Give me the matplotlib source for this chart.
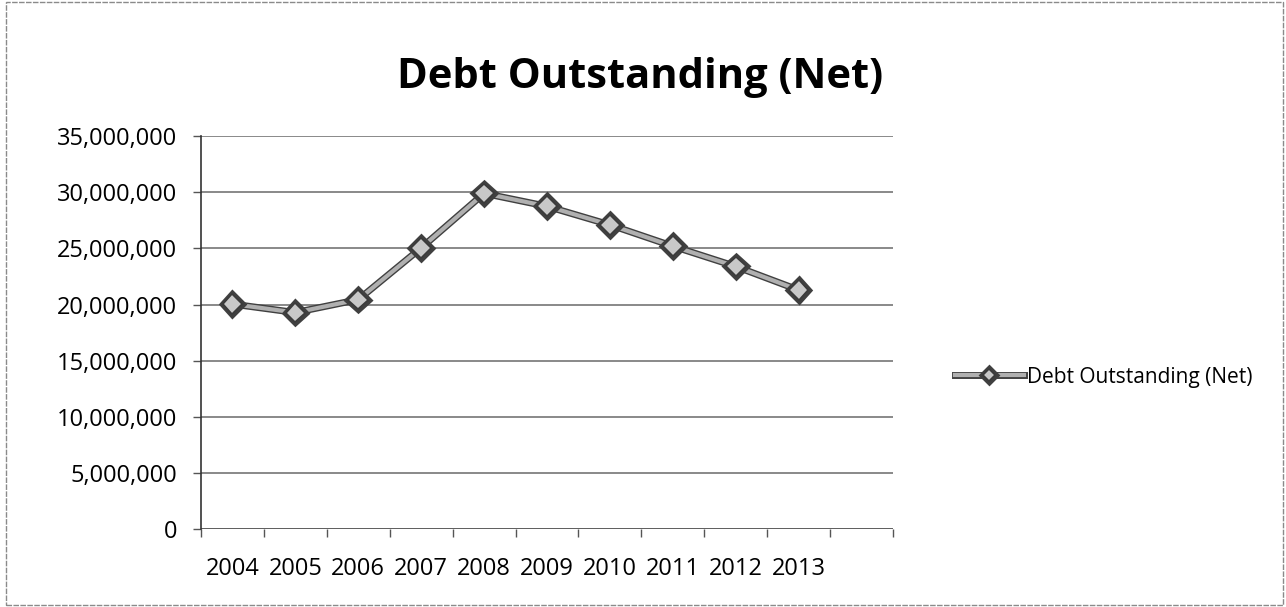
"""Debt Outstanding (Net) line chart, rebuilt from a scanned Excel figure."""

import matplotlib

matplotlib.use("Agg")

import matplotlib.patheffects as pe
import matplotlib.pyplot as plt
from matplotlib.patches import Rectangle
from matplotlib.ticker import FuncFormatter, MultipleLocator

years = ["2004", "2005", "2006", "2007", "2008", "2009", "2010", "2011", "2012", "2013"]
debt_net = [
    20_050_000,
    19_300_000,
    20_450_000,
    25_050_000,
    29_900_000,
    28_750_000,
    27_100_000,
    25_200_000,
    23_400_000,
    21_300_000,
]
n_slots = 11  # Excel left one empty category slot after 2013

plt.rcParams["font.family"] = ["Open Sans", "DejaVu Sans"]

fig = plt.figure(figsize=(12.86, 6.07), dpi=100)
ax = fig.add_axes([0.1563, 0.1277, 0.5381, 0.6482])

x = list(range(len(years)))
ax.plot(
    x,
    debt_net,
    color="#b0b0b0",
    linewidth=3,
    marker="D",
    markersize=10,
    markerfacecolor="#c8c8c8",
    markeredgecolor="#3a3a3a",
    markeredgewidth=1.1,
    label="Debt Outstanding (Net)",
    path_effects=[pe.Stroke(linewidth=5, foreground="#404040"), pe.Normal()],
    zorder=3,
)

ax.set_xlim(-0.5, n_slots - 0.5)
ax.set_ylim(0, 35_000_000)
ax.yaxis.set_major_locator(MultipleLocator(5_000_000))
ax.yaxis.set_major_formatter(FuncFormatter(lambda v, _: f"{v:,.0f}"))
ax.set_xticks(x)
ax.set_xticklabels(years)
ax.set_xticks([i - 0.5 for i in range(n_slots + 1)], minor=True)

ax.grid(axis="y", color="#6a6a6a", linewidth=1.1)
ax.set_axisbelow(True)
for side in ("top", "right", "bottom"):
    ax.spines[side].set_visible(False)
ax.spines["left"].set_color("#333333")
ax.spines["left"].set_linewidth(1.2)
ax.axhline(0, color="#555555", linewidth=1.1, zorder=2)

ax.tick_params(axis="y", length=6, width=1, color="#555555", pad=11, labelsize=17)
ax.tick_params(axis="x", which="major", length=0, pad=20, labelsize=17)
ax.tick_params(axis="x", which="minor", length=6, width=1, color="#555555")

fig.text(
    0.4977,
    1 - 78 / 607,
    "Debt Outstanding (Net)",
    ha="center",
    va="center",
    fontsize=30,
    fontweight="bold",
)

fig.legend(
    loc="center left",
    bbox_to_anchor=(955 / 1286, 1 - 377 / 607),
    frameon=False,
    fontsize=15,
    handlelength=3.3,
    handletextpad=0.15,
    markerscale=0.6,
    borderpad=0,
    borderaxespad=0,
)

fig.patches.append(
    Rectangle(
        (0.005, 0.003),
        0.993,
        0.994,
        transform=fig.transFigure,
        fill=False,
        edgecolor="#8a8a8a",
        linewidth=1,
        linestyle=(0, (4, 1)),
    )
)

fig.savefig("out.png", dpi=100)
